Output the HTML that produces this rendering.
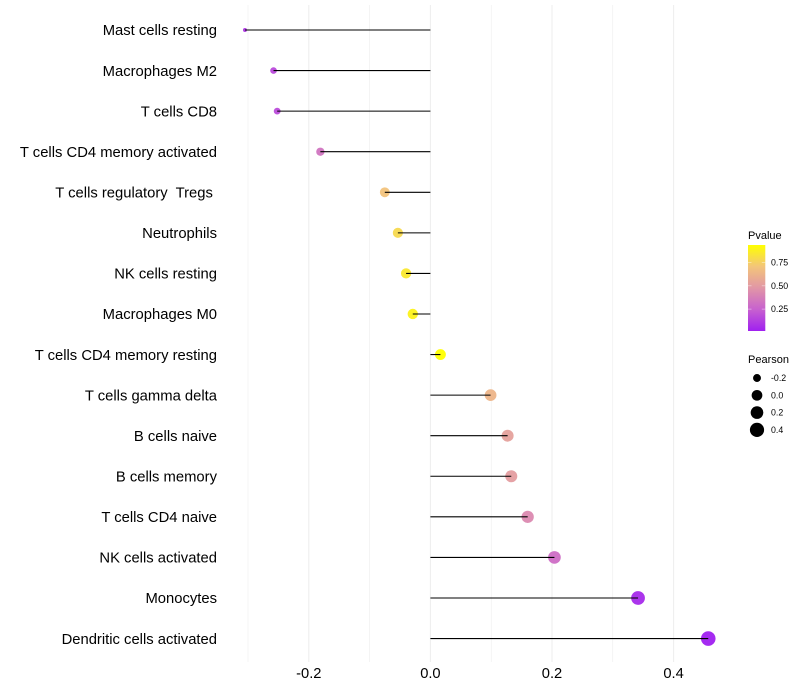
<!DOCTYPE html>
<html>
<head>
<meta charset="utf-8">
<title>Pearson lollipop chart</title>
<style>
html,body{margin:0;padding:0;background:#fff;}
#chart{display:block;width:800px;height:700px;font-family:"Liberation Sans",sans-serif;}
</style>
</head>
<body>
<svg id="chart" xmlns="http://www.w3.org/2000/svg" width="800" height="700" viewBox="0 0 800 700">
<defs>
<linearGradient id="pvalue-gradient" x1="0" y1="1" x2="0" y2="0">
<stop offset="0" stop-color="#a020f0"/>
<stop offset="0.25" stop-color="#c761cf"/>
<stop offset="0.5" stop-color="#e196a6"/>
<stop offset="0.75" stop-color="#f3c57a"/>
<stop offset="1" stop-color="#ffff00"/>
</linearGradient>
</defs>
<g id="grid"></g>
<g id="marks"></g>
<g id="labels"></g>
<g id="xticks"></g>
<g id="legend-color">
<text x="748" y="239" font-size="11" fill="#000">Pvalue</text>
<rect x="748" y="245" width="17.3" height="86" fill="url(#pvalue-gradient)"/>
</g>
<g id="legend-size">
<text x="748" y="363" font-size="11" fill="#000">Pearson</text>
</g>
</svg>
<script>
const categories = ["Mast cells resting","Macrophages M2","T cells CD8","T cells CD4 memory activated","T cells regulatory  Tregs ","Neutrophils","NK cells resting","Macrophages M0","T cells CD4 memory resting","T cells gamma delta","B cells naive","B cells memory","T cells CD4 naive","NK cells activated","Monocytes","Dendritic cells activated"];
const pearson = [-0.305,-0.258,-0.252,-0.181,-0.075,-0.0535,-0.04,-0.029,0.0165,0.099,0.127,0.133,0.16,0.204,0.3415,0.457];
const pvalue = [0.1,0.16,0.17,0.33,0.7,0.79,0.85,0.89,0.94,0.63,0.53,0.51,0.42,0.3,0.05,0.014];
const xMajorTicks = [-0.2,0,0.2,0.4];
const xTickLabels = ["-0.2","0.0","0.2","0.4"];
const xMinorTicks = [-0.3,-0.1,0.1,0.3];
const pvalueTicks = [0.25,0.5,0.75];
const pvalueTickLabels = ["0.25","0.50","0.75"];
const pearsonLegendValues = [-0.2,0,0.2,0.4];
const pearsonLegendLabels = ["-0.2","0.0","0.2","0.4"];

const NS = "http://www.w3.org/2000/svg";
function xScale(v){return 430.4 + 608 * v;}
function yScale(i){return 30 + 40.57 * i;}
const pMin = 0.014, pMax = 0.94;
function pScale(p){return 331 - (p - pMin) / (pMax - pMin) * 86;}
const rMin = Math.min.apply(null, pearson), rMax = Math.max.apply(null, pearson);
function sizeScale(v){
  const t = Math.max(0, (v - rMin) / (rMax - rMin));
  return 2 + 5.3 * Math.sqrt(t);
}
const colorStops = [[160,32,240],[199,97,207],[225,150,166],[243,197,122],[255,255,0]];
function colorScale(p){
  const t = Math.min(1, Math.max(0, (p - pMin) / (pMax - pMin))) * 4;
  const i = Math.min(3, Math.floor(t)), f = t - i;
  const c = colorStops[i].map(function(a, k){return Math.round(a + (colorStops[i + 1][k] - a) * f);});
  return "rgb(" + c.join(",") + ")";
}
function make(tag, attrs, parent, text){
  const el = document.createElementNS(NS, tag);
  for (const k in attrs) el.setAttribute(k, attrs[k]);
  if (text !== undefined) {
    el.textContent = text;
    el.setAttribute("xml:space", "preserve");
    el.style.whiteSpace = "pre";
  }
  parent.appendChild(el);
  return el;
}
const gridG = document.getElementById("grid");
xMinorTicks.forEach(function(t){
  const l = make("line", {x1:xScale(t), x2:xScale(t), y1:5, y2:662, stroke:"#ebebeb", "stroke-width":0.55}, gridG);
  
  
});
xMajorTicks.forEach(function(t){
  const l = make("line", {x1:xScale(t), x2:xScale(t), y1:5, y2:662, stroke:"#eeeeee", "stroke-width":1.07}, gridG);
  
  
});
const marksG = document.getElementById("marks");
const labelsG = document.getElementById("labels");
categories.forEach(function(name, i){
  const dot = make("circle", {cx:xScale(pearson[i]), cy:yScale(i), r:sizeScale(pearson[i]), fill:colorScale(pvalue[i]), "fill-opacity":0.95}, marksG);
  
  
  const seg = make("line", {x1:xScale(0), x2:xScale(pearson[i]), y1:yScale(i), y2:yScale(i), stroke:"#000", "stroke-width":1.07}, marksG);
  
  
  const lab = make("text", {x:217, y:yScale(i) + 5.2, "text-anchor":"end", "font-size":14.8, fill:"#000"}, labelsG, name);
  
  
});
const xG = document.getElementById("xticks");
xMajorTicks.forEach(function(t, i){
  const lab = make("text", {x:xScale(t), y:678, "text-anchor":"middle", "font-size":14.7, fill:"#000"}, xG, xTickLabels[i]);
  
  
});
const colorG = document.getElementById("legend-color");
pvalueTicks.forEach(function(p, i){
  const y = pScale(p);
  const a = make("line", {x1:748, x2:751.5, y1:y, y2:y, stroke:"#fff", "stroke-width":0.5, "stroke-opacity":0.8}, colorG);
  
  
  const b = make("line", {x1:761.8, x2:765.3, y1:y, y2:y, stroke:"#fff", "stroke-width":0.5, "stroke-opacity":0.8}, colorG);
  
  
  const lab = make("text", {x:771, y:y + 3, "font-size":8.8, fill:"#000"}, colorG, pvalueTickLabels[i]);
  
  
});
const sizeG = document.getElementById("legend-size");
pearsonLegendValues.forEach(function(v, i){
  const y = 378 + 17.3 * i;
  const dot = make("circle", {cx:757, cy:y, r:sizeScale(v), fill:"#000"}, sizeG);
  
  
  const lab = make("text", {x:771, y:y + 3, "font-size":8.8, fill:"#000"}, sizeG, pearsonLegendLabels[i]);
  
  
});
</script>
</body>
</html>
